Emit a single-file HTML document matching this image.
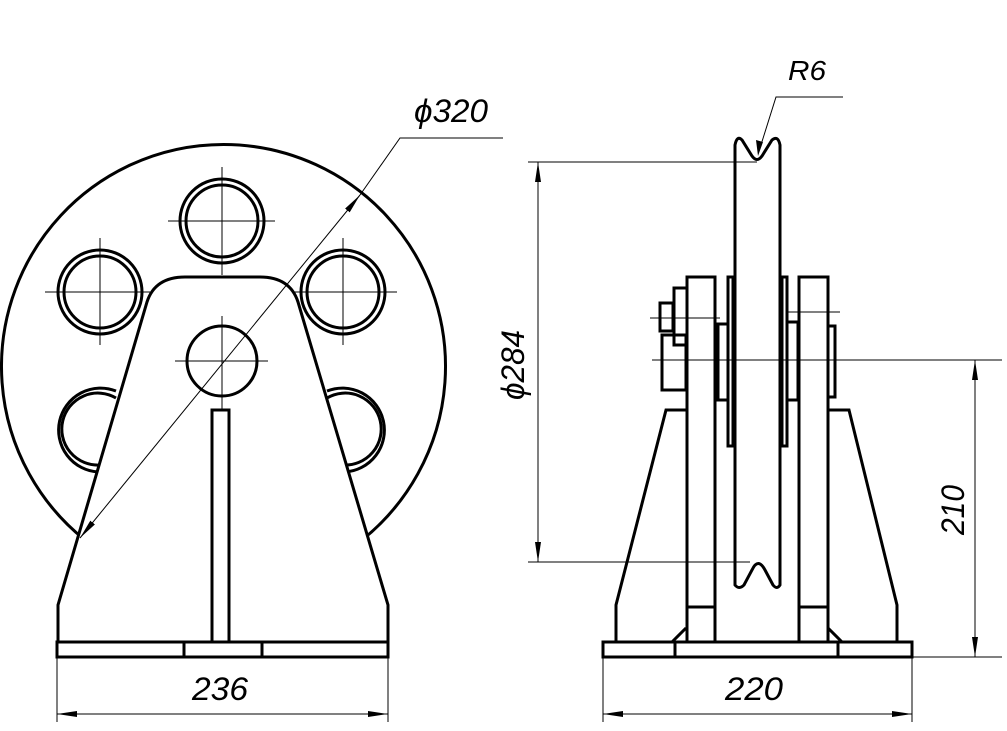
<!DOCTYPE html>
<html><head><style>html,body{margin:0;padding:0;background:#fff}svg{display:block}text{font-family:"Liberation Sans",sans-serif;font-style:italic;fill:#000}</style></head><body>
<svg width="1007" height="731" viewBox="0 0 1007 731" xmlns="http://www.w3.org/2000/svg">
<defs>
<marker id="a" viewBox="0 0 20 6" refX="20" refY="3" markerWidth="20" markerHeight="6" markerUnits="userSpaceOnUse" orient="auto-start-reverse"><path d="M0,0 L20,3 L0,6 z" fill="#000"/></marker>
</defs>
<g fill="none" stroke="#000" stroke-width="3">
<path d="M85,540 A222,222 0 1 1 362,540" />
<circle cx="222" cy="221" r="42"/><circle cx="222" cy="221" r="36"/>
<circle cx="100" cy="292" r="42"/><circle cx="100" cy="292" r="36"/>
<circle cx="343" cy="292" r="42"/><circle cx="343" cy="292" r="36"/>
<path d="M116,391 A42,42 0 1 0 98,472"/><path d="M116,398 A36,36 0 1 0 100,465"/>
<path d="M327,391 A42,42 0 1 1 345,472"/><path d="M327,398 A36,36 0 1 1 343,465"/>
<path d="M58,642 L58,605 L147,302 Q155,277 185,277 L260,277 Q290,277 298,302 L388,605 L388,642" fill="#fff"/>
<circle cx="222" cy="361" r="35"/>
<rect x="212" y="410" width="17" height="232" fill="#fff"/>
<rect x="57" y="642" width="331" height="15" fill="#fff"/>
<line x1="184" y1="642" x2="184" y2="657"/><line x1="262" y1="642" x2="262" y2="657"/>
<path d="M616,642 L616,605 L666,410 L686,410 M828,410 L849,410 L897,605 L897,642"/>
<rect x="603" y="642" width="309" height="15"/>
<line x1="675" y1="642" x2="675" y2="657"/><line x1="838" y1="642" x2="838" y2="657"/>
<path d="M672,642 L686,628 M842,642 L828,628"/>
<rect x="687" y="277" width="28" height="365"/>
<rect x="799" y="277" width="29" height="365"/>
<line x1="687" y1="607" x2="715" y2="607"/><line x1="799" y1="607" x2="828" y2="607"/>
<rect x="728" y="277" width="5" height="169"/>
<rect x="782" y="277" width="5" height="169"/>
<rect x="718" y="324" width="10" height="76"/>
<rect x="787" y="322" width="11" height="78"/>
<rect x="674" y="288" width="13" height="57"/>
<rect x="660" y="303" width="13" height="28"/>
<rect x="662" y="335" width="24" height="55"/>
<rect x="828" y="326" width="7" height="71"/>
<path d="M735,585 L735,145 Q737,135 742,140 L752,156 Q757,163 762,156 L772,140 Q778,135 780,145 L780,585 Q777,590 773,585 L765,570 Q758,557 752,570 L744,585 Q739,590 735,585 Z" fill="#fff"/>
</g>
<g fill="none" stroke="#000" stroke-width="1">
<path d="M222,167 V275 M168,221 H275 M100,238 V345 M45,292 H150 M343,238 V345 M293,292 H397 M222,316 V410 M175,361 H268"/>
<line x1="80" y1="538" x2="360" y2="195" marker-end="url(#a)" marker-start="url(#a)"/>
<path d="M360,195 L400,138 H503"/>
<path d="M57,657 V722 M388,657 V722 M603,657 V722 M912,657 V722"/>
<line x1="57" y1="714" x2="388" y2="714" marker-end="url(#a)" marker-start="url(#a)"/>
<line x1="603" y1="714" x2="912" y2="714" marker-end="url(#a)" marker-start="url(#a)"/>
<path d="M528,162 H757 M528,562 H750"/>
<line x1="538" y1="162" x2="538" y2="562" marker-end="url(#a)" marker-start="url(#a)"/>
<path d="M652,360 H1002 M912,657 H1002 M650,318 H720 M788,312 H840"/>
<line x1="975" y1="360" x2="975" y2="657" marker-end="url(#a)" marker-start="url(#a)"/>
<path d="M843,97 H776 L760,148"/>
</g>
<path d="M758,156 L756,140 L763,142 Z" fill="#000"/>
<text x="414" y="122" font-size="32" textLength="74" lengthAdjust="spacingAndGlyphs">ϕ320</text>
<text x="788" y="80" font-size="28" textLength="38" lengthAdjust="spacingAndGlyphs">R6</text>
<text x="192" y="700" font-size="32" textLength="56" lengthAdjust="spacingAndGlyphs">236</text>
<text x="725" y="700" font-size="32" textLength="58" lengthAdjust="spacingAndGlyphs">220</text>
<text transform="translate(524,400) rotate(-90)" font-size="32" textLength="70" lengthAdjust="spacingAndGlyphs">ϕ284</text>
<text transform="translate(964,535) rotate(-90)" font-size="32" textLength="50" lengthAdjust="spacingAndGlyphs">210</text>
</svg>
</body></html>
